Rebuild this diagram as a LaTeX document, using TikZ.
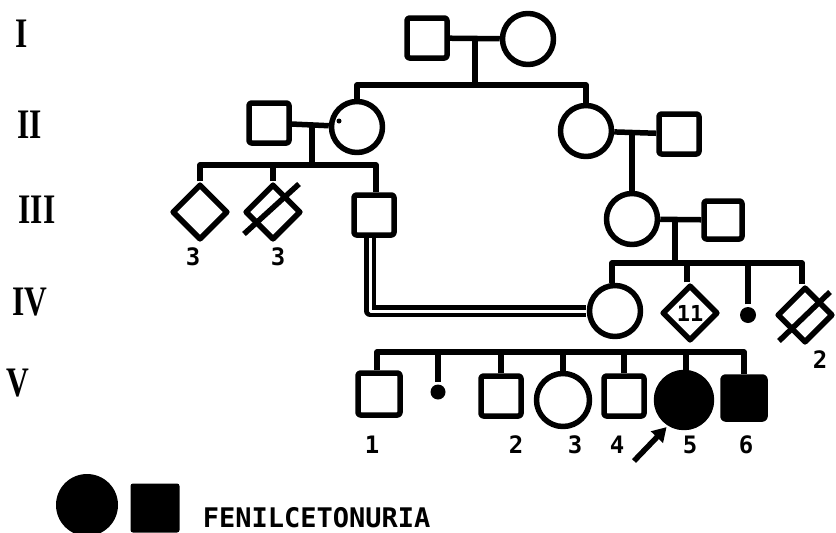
\documentclass[tikz,border=0pt]{standalone}
\usepackage{fontspec}
\usetikzlibrary{shapes.geometric,arrows.meta}
\newfontfamily\monofam{DejaVu Sans Mono}
\newfontfamily\seriffam{Liberation Serif}
\begin{document}
\begin{tikzpicture}[x=1pt,y=-1pt,line width=5.5pt,line join=round,
  male/.style={draw,rectangle,rounded corners=2.5pt,minimum size=40pt,inner sep=0pt},
  female/.style={draw,circle,minimum size=51pt,inner sep=0pt},
  unk/.style={draw,diamond,minimum width=56pt,minimum height=56pt,inner sep=0pt},
  small/.style={circle,fill=black,minimum size=16pt,inner sep=0pt},
  aff/.style={fill=black},
  gen/.style={font=\seriffam\bfseries\fontsize{42}{42}\selectfont,inner sep=0pt},
  num/.style={font=\monofam\bfseries\fontsize{24}{24}\selectfont,inner sep=0pt},
  dbl/.style={double,double distance=3pt,line width=4.5pt}]
\useasboundingbox (0,0) rectangle (836,533);

% generation labels
\node[gen] (gI)   at (22,34)  {\scalebox{0.75}[1]{I}};
\node[gen] (gII)  at (30,125) {\scalebox{0.75}[1]{II}};
\node[gen] (gIII) at (37,210) {\scalebox{0.75}[1]{III}};
\node[gen] (gIV)  at (30,302) {\scalebox{0.75}[1]{IV}};
\node[gen] (gV)   at (18,383) {\scalebox{0.75}[1]{V}};

% generation I
\node[male]   (I1) at (427,38) {};
\node[female] (I2) at (528,39) {};

% generation II
\node[male]   (II1) at (269,123) {};
\node[female] (II2) at (357,127) {};
\node[circle,fill=black,minimum size=5pt,inner sep=0pt] (II2d) at (339,121) {};
\node[female] (II3) at (586,131) {};
\node[male]   (II4) at (679,134) {};

% generation III
\node[unk]  (III1) at (200,212) {};
\node[unk]  (III2) at (273,212) {};
\node[male] (III3) at (374,215) {};
\node[female] (III4) at (632,219) {};
\node[male,minimum size=38pt] (III5) at (723,220) {};
\node[num] (l31) at (193,257) {3};
\node[num] (l32) at (278,257) {3};

% generation IV
\node[female] (IV1) at (615,311) {};
\node[unk,font=\monofam\bfseries\fontsize{22}{22}\selectfont] (IV2) at (690,313) {11};
\node[small] (IV3) at (748,315) {};
\node[unk]  (IV4) at (805,315) {};
\node[num] (l42) at (820,360) {2};

% generation V
\node[male,minimum size=42pt] (V1) at (379,394) {};
\node[small,minimum size=15pt] (Vd) at (438,392) {};
\node[male] (V2) at (501,396) {};
\node[female,minimum size=53pt] (V3) at (563,400) {};
\node[male] (V4) at (624,396) {};
\node[female,aff,minimum size=55pt] (V5) at (684,400) {};
\node[male,aff,minimum size=42pt] (V6) at (744,398) {};
\node[num] (n1) at (372,445) {1};
\node[num] (n2) at (516,445) {2};
\node[num] (n3) at (575,445) {3};
\node[num] (n4) at (617,445) {4};
\node[num] (n5) at (690,445) {5};
\node[num] (n6) at (746,445) {6};

% legend
\node[circle,fill=black,minimum size=62pt,inner sep=0pt] (LC) at (87,505) {};
\node[rectangle,fill=black,rounded corners=2.5pt,minimum size=49pt,inner sep=0pt] (LS) at (155,508) {};
\node[font=\monofam\bfseries\fontsize{27}{27}\selectfont,inner sep=0pt,anchor=west] (LT) at (200,518) {FENILCETONURIA};

% coordinates for lines
\coordinate (mI)   at (475,38);
\coordinate (sI)   at (475,85);
\coordinate (mII)  at (312,125);
\coordinate (sII)  at (312,165);
\coordinate (mIII) at (675,219);
\coordinate (sIII) at (675,263);
\coordinate (sV)   at (560,352);
\coordinate (tail) at (634,461);

% gen I lines
\draw (I1) -- (I2);
\draw (mI) -- (sI);
\draw (II2.north) -- (II2.north |- sI) -- (II3.north |- sI) -- (II3.north);

% gen II lines
\draw (II1) -- (II2);
\draw (mII) -- (sII);
\draw (III1.north) -- (III1.north |- sII) -- ([xshift=2pt]III3.north |- sII) -- ([xshift=2pt]III3.north);
\draw (III2.north) -- (III2.north |- sII);
\draw (II3) -- (II4);
\draw (III4.north) -- (III4.north |- II4.west);

% gen III lines
\draw (III4) -- (III5);
\draw (mIII) -- (sIII);
\draw ([xshift=-3pt]IV1.north) -- ([xshift=-3pt]IV1.north |- sIII) -- ([xshift=-3pt]IV4.north |- sIII) -- ([xshift=-3pt]IV4.north);
\draw ([xshift=-3pt]IV2.north) -- ([xshift=-3pt]IV2.north |- sIII);
\draw (IV3) -- (IV3 |- sIII);
\draw[dbl] ([xshift=-4pt]III3.south) -- ([xshift=-4pt]III3.south |- IV1.west) -- ([xshift=-1pt]IV1.west);

% slashes
\draw ([shift={(-29,22)}]III2.center) -- ([shift={(26,-28)}]III2.center);
\draw ([shift={(-26,26)}]IV4.center) -- ([shift={(25,-23)}]IV4.center);

% gen V lines
\draw ([xshift=-2pt]V1.north) -- ([xshift=-2pt]V1.north |- sV) -- (V6.north |- sV) -- (V6.north);
\draw (Vd) -- (Vd |- sV);
\draw (V2.north) -- (V2.north |- sV);
\draw (V3.north) -- (V3.north |- sV);
\draw (V4.north) -- (V4.north |- sV);
\draw ([xshift=2pt]V5.north) -- ([xshift=2pt]V5.north |- sV);

% proband arrow
\draw[line width=5.5pt,-{Triangle[length=14pt,width=16pt]},shorten >=2pt] (tail) -- (V5.238);
\end{tikzpicture}
\end{document}
